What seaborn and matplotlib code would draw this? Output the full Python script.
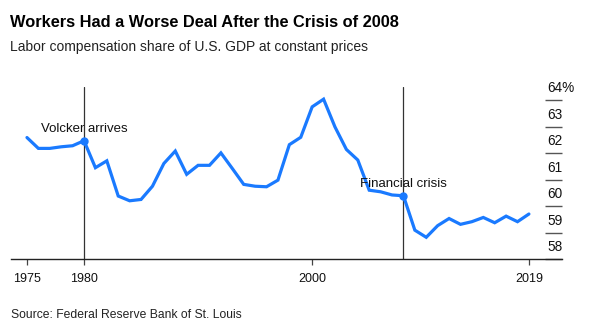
import matplotlib
matplotlib.use("Agg")
import matplotlib.pyplot as plt
import matplotlib.transforms as mtransforms
import seaborn as sns
import pandas as pd

years = list(range(1975, 2020))
labor_share = [62.59, 62.18, 62.18, 62.24, 62.28, 62.47, 61.45, 61.71, 60.38, 60.20,
               60.25, 60.75, 61.61, 62.08, 61.20, 61.54, 61.54, 62.01, 61.42, 60.82,
               60.75, 60.73, 60.98, 62.32, 62.60, 63.75, 64.04, 62.99, 62.14, 61.74,
               60.60, 60.54, 60.42, 60.39, 59.09, 58.82, 59.26, 59.53, 59.31, 59.41,
               59.57, 59.37, 59.62, 59.41, 59.70]
event_years = [1980, 2008]
event_labels = ["Volcker arrives", "Financial crisis"]
x_ticks = [1975, 1980, 2000, 2019]
y_ticks = [58, 59, 60, 61, 62, 63, 64]
y_labels = ["58", "59", "60", "61", "62", "63", "64%"]

title = "Workers Had a Worse Deal After the Crisis of 2008"
subtitle = "Labor compensation share of U.S. GDP at constant prices"
source = "Source: Federal Reserve Bank of St. Louis"

sns.set_theme(style="white")
plt.rcParams["font.family"] = ["Liberation Sans", "DejaVu Sans"]

BLUE = "#1a7aff"
W, H = 600, 331
fig = plt.figure(figsize=(W / 100, H / 100), dpi=100)
ax = fig.add_axes([11 / W, 72 / H, 551 / W, 172 / H])

df = pd.DataFrame({"year": years, "share": labor_share})
sns.lineplot(data=df, x="year", y="share", ax=ax, color=BLUE, linewidth=2.3,
             solid_joinstyle="miter", zorder=3)

ax.set_xlim(1973.6, 2021.9)
ax.set_ylim(58, 64.5)

for s in ["top", "left", "right"]:
    ax.spines[s].set_visible(False)
ax.spines["bottom"].set_color("#222222")
ax.spines["bottom"].set_linewidth(1.0)

ax.set_xticks(x_ticks)
ax.set_xticklabels([str(t) for t in x_ticks])
ax.tick_params(axis="x", direction="out", length=4, width=0.9, color="#444444",
               pad=6, labelsize=9, labelcolor="#111111", bottom=True)

ax.set_yticks(y_ticks)
ax.yaxis.tick_right()
ax.tick_params(axis="y", direction="in", length=12, width=1.0, color="#555555",
               labelright=False, labelleft=False, right=True, left=False)

ax.set_xlabel("")
ax.set_ylabel("")
ax.grid(False)

trans = mtransforms.blended_transform_factory(ax.transAxes, ax.transData)
off = mtransforms.ScaledTranslation(0, 8 / 100, fig.dpi_scale_trans)
for v, lab in zip(y_ticks, y_labels):
    ax.text(1 - 15 / 551, v, lab, transform=trans + off, ha="left", va="baseline",
            fontsize=9.8, color="#111111")

for yr, lab in zip(event_years, event_labels):
    val = labor_share[years.index(yr)]
    ax.axvline(yr, color="#333333", linewidth=0.9, zorder=2)
    ax.plot([yr], [val], marker="o", markersize=5, color=BLUE, zorder=4)
    ax.annotate(lab, xy=(yr, val), xytext=(0, 6), textcoords="offset points",
                ha="center", va="baseline", fontsize=9.5, color="#111111", zorder=5)

fig.text(10 / W, 1 - 27 / H, title, fontsize=11.75, fontweight="bold", color="#000000",
         ha="left", va="baseline")
fig.text(10 / W, 1 - 50.5 / H, subtitle, fontsize=10, color="#222222",
         ha="left", va="baseline")
fig.text(11 / W, 1 - 318 / H, source, fontsize=8.7, color="#222222",
         ha="left", va="baseline")

fig.savefig("out.png", dpi=100, facecolor="white")
